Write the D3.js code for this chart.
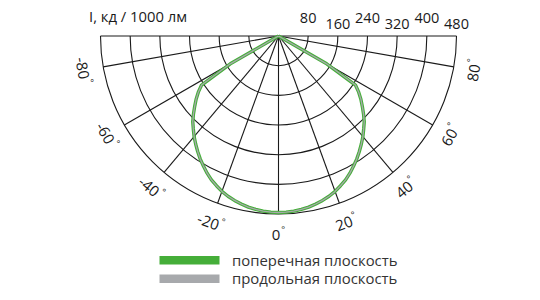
<!DOCTYPE html>
<html><head><meta charset="utf-8">
<script src="https://cdn.jsdelivr.net/npm/d3@7"></script>
<style>
html,body{margin:0;padding:0;background:#fff;}
svg{display:block;font-family:"Open Sans",sans-serif;}
</style></head>
<body>
<svg id="chart" width="540" height="300"></svg>
<script>
// ---- data ----
const angles = [-90,-87.5,-85,-82.5,-80,-77.5,-75,-72.5,-70,-67.5,-65,-62.5,-60,-57.5,-55,-52.5,-50,-47.5,-45,-42.5,-40,-37.5,-35,-32.5,-30,-27.5,-25,-22.5,-20,-17.5,-15,-12.5,-10,-7.5,-5,-2.5,
  0,2.5,5,7.5,10,12.5,15,17.5,20,22.5,25,27.5,30,32.5,35,37.5,40,42.5,45,47.5,50,52.5,55,57.5,60,62.5,65,67.5,70,72.5,75,77.5,80,82.5,85,87.5,90];
const transverse = [0,0,0,0,0,0,0,0,0,0,0,0,150,246,264,280,295,311,327,340,354,367,380,393,405,417,428,437,446,453,459,464,468.5,471.5,474,475.5,
  476,475.5,474,471.5,468.5,464,459,453,446,437,428,417,405,393,380,367,354,340,327,311,295,280,264,246,150,0,0,0,0,0,0,0,0,0,0,0,0];
const longitudinal = [0,0,0,0,0,0,0,0,0,0,0,0,150,246,264,280,295,311,327,340,354,367,380,393,405,417,428,437,446,453,459,464,468.5,471.5,474,475.5,
  476,475.5,474,471.5,468.5,464,459,453,446,437,428,417,405,393,380,367,354,340,327,311,295,280,264,246,150,0,0,0,0,0,0,0,0,0,0,0,0];
const ringTicks = [80,160,240,320,400,480];
const ringLabels = ["80","160","240","320","400","480"];
const spokeAngles = [-80,-60,-40,-20,0,20,40,60,80];
const angleLabels = ["-80","-60","-40","-20","0","20","40","60","80"];
const titleText = "I, кд / 1000 лм";
const seriesNames = ["поперечная плоскость","продольная плоскость"];
const seriesColors = ["#45ae39","#a7a9ac"];

// ---- layout ----
const svg = d3.select("#chart");
const cx = 278.5, cy = 36, R = 178;
const r = d3.scaleLinear().domain([0,480]).range([0,R]);
const toRad = d => d*Math.PI/180;
const g = svg.append("g").attr("transform",`translate(${cx},${cy})`);
const ink = "#1a1a1a";

// rings
ringTicks.forEach(v=>{
  const p = d3.path();
  p.arc(0,0,r(v),0,Math.PI);
  g.append("path").attr("d",p.toString()).attr("fill","none").attr("stroke",ink).attr("stroke-width",1.1);
});
// top line
g.append("line").attr("x1",-r(480)).attr("x2",r(480)).attr("y1",0).attr("y2",0)
 .attr("stroke",ink).attr("stroke-width",1.1);
// spokes
spokeAngles.forEach(a=>{
  g.append("line").attr("x1",0).attr("y1",0)
   .attr("x2",r(480)*Math.sin(toRad(a))).attr("y2",r(480)*Math.cos(toRad(a)))
   .attr("stroke",ink).attr("stroke-width",1.1);
});

// curves
const line = d3.lineRadial()
  .angle((d,i)=>Math.PI - toRad(angles[i]))
  .radius(d=>r(d))
  .curve(d3.curveLinear);
g.append("path").attr("d",line(transverse)).attr("fill","none")
 .attr("stroke",seriesColors[0]).attr("stroke-width",3.4).attr("stroke-linejoin","round");
g.append("path").attr("d",line(longitudinal)).attr("fill","none")
 .attr("stroke",seriesColors[1]).attr("stroke-width",1.3).attr("stroke-linejoin","round");

// ring labels
ringTicks.forEach((v,i)=>{
  svg.append("text").attr("x",cx + r(v)).attr("y", i%2===0 ? 23 : 29)
    .attr("text-anchor","middle").attr("font-size",14.5).attr("fill",ink)
    .text(ringLabels[i]);
});
// title
svg.append("text").attr("x",89).attr("y",22).attr("font-size",14.8).attr("fill",ink).text(titleText);

// angle labels
spokeAngles.forEach((a,i)=>{
  const rr = 198;
  const x = cx + rr*Math.sin(toRad(a)), y = cy + rr*Math.cos(toRad(a));
  const t = svg.append("text")
    .attr("transform",`translate(${x},${y}) rotate(${-a})`)
    .attr("text-anchor","middle").attr("dominant-baseline","central")
    .attr("font-size",15).attr("fill",ink);
  t.append("tspan").text(angleLabels[i]);
  t.append("tspan").attr("font-size",9).attr("dy",-5.5).attr("dx",1).text("°");
});

// legend
const lg = svg.append("g");
seriesNames.forEach((n,i)=>{
  const y0 = 256 + i*18.5;
  lg.append("rect").attr("x",159.5).attr("y",y0).attr("width",60).attr("height",8.5).attr("fill",seriesColors[i]);
  lg.append("text").attr("x",232).attr("y",y0+9.5).attr("font-size",14.9).attr("fill","#333").text(n);
});
</script>
</body></html>
